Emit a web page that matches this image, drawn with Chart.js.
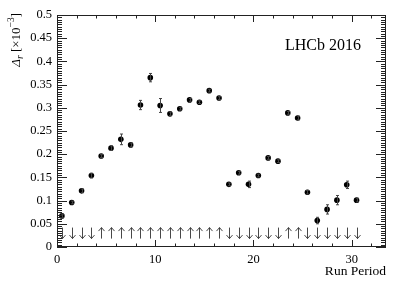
<!DOCTYPE html>
<html>
<head>
<meta charset="utf-8">
<script src="https://cdn.jsdelivr.net/npm/chart.js@4/dist/chart.umd.min.js"></script>
<style>
html,body{margin:0;padding:0;background:#fff;}
canvas{display:block;}
</style>
</head>
<body>
<canvas id="c" width="407" height="294"></canvas>
<script>
// ---- data ----
const runPeriod = [0.5,1.5,2.5,3.5,4.5,5.5,6.5,7.5,8.5,9.5,10.5,11.5,12.5,13.5,14.5,15.5,16.5,17.5,18.5,19.5,20.5,21.5,22.5,23.5,24.5,25.5,26.5,27.5,28.5,29.5,30.5];
const deltaR = [0.067,0.096,0.121,0.154,0.196,0.213,0.232,0.220,0.306,0.365,0.305,0.287,0.298,0.317,0.312,0.337,0.321,0.135,0.160,0.135,0.154,0.192,0.185,0.289,0.278,0.118,0.057,0.081,0.101,0.134,0.101];
const deltaRErr = [0.004,0.003,0.004,0.005,0.003,0.005,0.0115,0.004,0.010,0.009,0.015,0.004,0.003,0.003,0.003,0.003,0.003,0.003,0.003,0.007,0.003,0.003,0.003,0.003,0.004,0.004,0.007,0.010,0.010,0.008,0.004];
const polarity = ["D","D","D","D","U","U","U","U","U","U","U","U","U","U","U","U","U","D","D","D","D","D","D","U","U","D","D","D","D","D","D"];
const arrowLevel = 0.03;
const xTicks = [0,10,20,30];
const yTicks = [0,0.05,0.1,0.15,0.2,0.25,0.3,0.35,0.4,0.45,0.5];
const xRange = [0,33.5];
const yRange = [0,0.5];
const label = "LHCb 2016";
const xTitle = "Run Period";

const SERIF = '"Liberation Serif","DejaVu Serif",serif';

const rootFrame = {
  id: 'rootFrame',
  afterDatasetsDraw(chart) {
    const ctx = chart.ctx;
    const xs = chart.scales.x, ys = chart.scales.y;
    const a = chart.chartArea;
    ctx.save();
    // error bars
    ctx.strokeStyle = '#444';
    ctx.lineWidth = 1;
    for (let i = 0; i < runPeriod.length; i++) {
      const px = Math.round(xs.getPixelForValue(runPeriod[i])) + 0.5;
      const y1 = ys.getPixelForValue(deltaR[i] - deltaRErr[i]);
      const y2 = ys.getPixelForValue(deltaR[i] + deltaRErr[i]);
      ctx.beginPath();
      ctx.moveTo(px, y1); ctx.lineTo(px, y2);
      ctx.moveTo(px - 1.5, y1); ctx.lineTo(px + 1.5, y1);
      ctx.moveTo(px - 1.5, y2); ctx.lineTo(px + 1.5, y2);
      ctx.stroke();
    }
    // polarity arrows
    ctx.strokeStyle = '#333';
    ctx.lineWidth = 0.9;
    const ay = ys.getPixelForValue(arrowLevel);
    for (let i = 0; i < runPeriod.length; i++) {
      const px = Math.round(xs.getPixelForValue(runPeriod[i])) + 0.5;
      const top = ay - 5.5, bot = ay + 5.5;
      ctx.beginPath();
      ctx.moveTo(px, top); ctx.lineTo(px, bot);
      if (polarity[i] === 'U') {
        ctx.moveTo(px - 3, top + 3.5); ctx.lineTo(px, top); ctx.lineTo(px + 3, top + 3.5);
      } else {
        ctx.moveTo(px - 3, bot - 3.5); ctx.lineTo(px, bot); ctx.lineTo(px + 3, bot - 3.5);
      }
      ctx.stroke();
    }
    // frame
    ctx.strokeStyle = '#222';
    ctx.lineWidth = 1;
    ctx.strokeRect(a.left + 0.5, a.top + 0.5, a.right - a.left - 1, a.bottom - a.top - 1);
    // x ticks (bottom & top)
    const xMajLen = 7, xMinLen = 3.5;
    ctx.beginPath();
    for (let v = xRange[0]; v <= xRange[1] + 1e-9; v += 2) {
      const px = Math.round(xs.getPixelForValue(v)) + 0.5;
      const len = (Math.abs(v % 10) < 1e-9) ? xMajLen : xMinLen;
      ctx.moveTo(px, a.bottom); ctx.lineTo(px, a.bottom - len);
      ctx.moveTo(px, a.top); ctx.lineTo(px, a.top + len);
    }
    // y ticks (left & right)
    const yMajLen = 10, yMinLen = 5;
    for (let k = 0; k <= 100; k++) {
      const v = k * 0.005;
      const py = Math.round(ys.getPixelForValue(v)) + 0.5;
      const len = (k % 10 === 0) ? yMajLen : yMinLen;
      ctx.moveTo(a.left, py); ctx.lineTo(a.left + len, py);
      ctx.moveTo(a.right, py); ctx.lineTo(a.right - len, py);
    }
    ctx.stroke();
    // texts
    ctx.fillStyle = '#000';
    ctx.font = '16px ' + SERIF;
    ctx.textAlign = 'left';
    ctx.textBaseline = 'alphabetic';
    ctx.fillText(label, 285, 50);
    ctx.font = '13.5px ' + SERIF;
    ctx.textAlign = 'right';
    ctx.fillText(xTitle, a.right, 275);
    // y title, rotated
    ctx.translate(20, a.top - 2);
    ctx.rotate(-Math.PI / 2);
    const parts = [
      {t: 'Δ', f: 'italic 13px ' + SERIF, dy: 0},
      {t: 'r', f: 'italic 9.5px ' + SERIF, dy: 3},
      {t: ' [×10', f: '13px ' + SERIF, dy: 0},
      {t: '−3', f: '9.5px ' + SERIF, dy: -6},
      {t: ']', f: '13px ' + SERIF, dy: 0}
    ];
    let total = 0;
    parts.forEach(p => { ctx.font = p.f; p.w = ctx.measureText(p.t).width; total += p.w; });
    let cx = -total;
    ctx.textAlign = 'left';
    parts.forEach(p => { ctx.font = p.f; ctx.fillText(p.t, cx, p.dy); cx += p.w; });
    ctx.restore();
  }
};

new Chart(document.getElementById('c'), {
  type: 'scatter',
  data: {
    datasets: [{
      data: runPeriod.map((x, i) => ({x: x, y: deltaR[i]})),
      backgroundColor: '#000',
      borderColor: '#000',
      pointRadius: 2.8,
      pointBorderWidth: 0
    }]
  },
  options: {
    responsive: false,
    animation: false,
    devicePixelRatio: 1,
    layout: {padding: {left: 0, right: 21, top: 15, bottom: 0}},
    plugins: {legend: {display: false}, tooltip: {enabled: false}},
    scales: {
      x: {
        type: 'linear', min: xRange[0], max: xRange[1],
        grid: {display: false, drawTicks: false},
        border: {display: false},
        afterBuildTicks: s => { s.ticks = xTicks.map(v => ({value: v})); },
        afterFit: s => { s.height = 47; },
        ticks: {color: '#000', font: {family: SERIF, size: 12.5}, padding: 5, maxRotation: 0,
                callback: v => String(v)}
      },
      y: {
        type: 'linear', min: yRange[0], max: yRange[1],
        grid: {display: false, drawTicks: false},
        border: {display: false},
        afterBuildTicks: s => { s.ticks = yTicks.map(v => ({value: v})); },
        afterFit: s => { s.width = 57; },
        ticks: {color: '#000', font: {family: SERIF, size: 12.5}, padding: 5,
                callback: v => String(Number(v.toFixed(3)))}
      }
    }
  },
  plugins: [rootFrame]
});
</script>
</body>
</html>
